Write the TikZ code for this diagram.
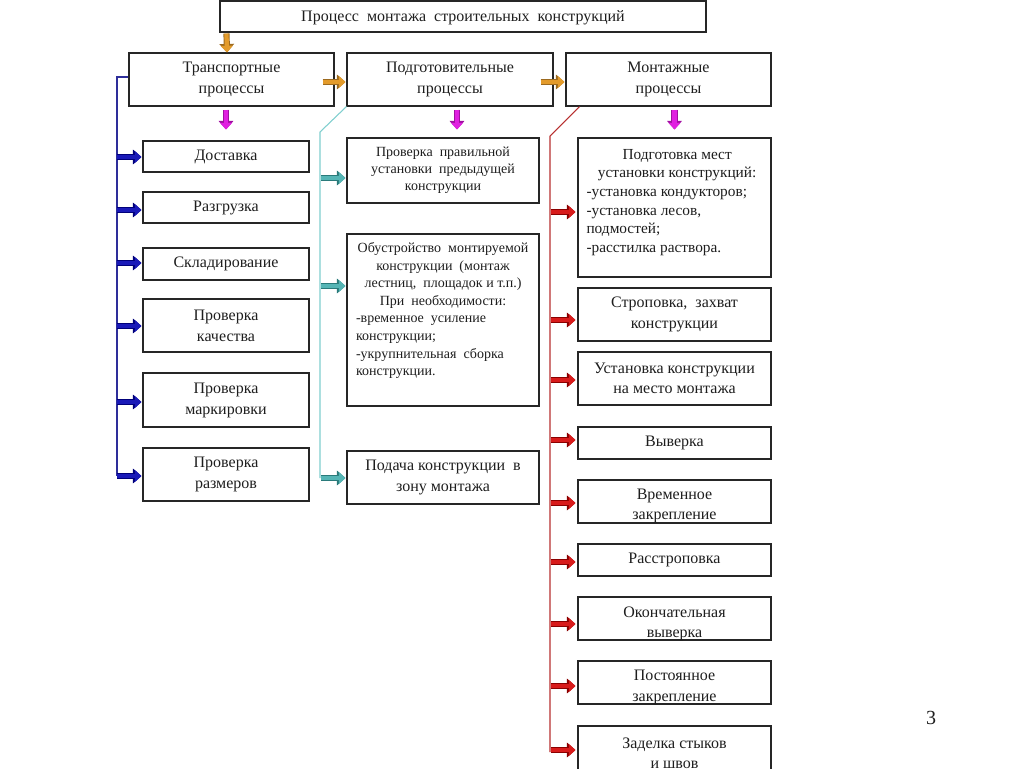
\documentclass[tikz,border=0pt]{standalone}
\usepackage{fontspec}
\setmainfont{Liberation Serif}
\usetikzlibrary{arrows.meta,calc}
\definecolor{orF}{HTML}{E39B2B}
\definecolor{orD}{HTML}{9C6A1F}
\definecolor{mgF}{HTML}{E020E0}
\definecolor{mgD}{HTML}{A010A0}
\definecolor{blF}{HTML}{1A1AB8}
\definecolor{blD}{HTML}{00007A}
\definecolor{tlF}{HTML}{55B5B5}
\definecolor{tlD}{HTML}{2A7A7A}
\definecolor{rdF}{HTML}{D81B1B}
\definecolor{rdD}{HTML}{8B0000}
\definecolor{blL}{HTML}{2E2E9A}
\definecolor{tlL}{HTML}{80CFCF}
\definecolor{rdL}{HTML}{B83030}
\definecolor{txt}{HTML}{1E1E1E}
\tikzset{
  box/.style={draw=black!85, line width=0.8pt, fill=white, inner sep=0pt, rectangle},
  txtn/.style={inner sep=0pt, align=center, text=txt},
  fA/.style={font=\fontsize{12}{15.75}\selectfont},
  fB/.style={font=\fontsize{10.5}{12.75}\selectfont},
  fC/.style={font=\fontsize{10.5}{13.2}\selectfont},
  fR/.style={font=\fontsize{12}{15.2}\selectfont},
  fat/.style 2 args={draw=#1, line width=3.2pt, -{Triangle[length=5pt,width=8.8pt,fill=#1]},
    preaction={draw=#2, line width=4.6pt, -{Triangle[length=6.4pt,width=10.8pt]}}},
  fatO/.style={fat={orF}{orD}},
  fatM/.style={fat={mgF}{mgD}},
  fatB/.style={fat={blF}{blD}},
  fatT/.style={fat={tlF}{tlD}},
  fatR/.style={fat={rdF}{rdD}},
  trunk/.style={line width=0.8pt},
}
% [text yshift]{name}{x1}{y1}{x2}{y2}{font style}{text}
\newcommand\bx[8][0pt]{%
  \node[box, minimum width={(#5-#3)*0.75pt}, minimum height={(#6-#4)*0.75pt}] (#2) at ({(#3+#5)/2},{(#4+#6)/2}) {};
  \node[txtn, #7, yshift=#1] (#2-t) at (#2.center) {#8};}
\begin{document}
\begin{tikzpicture}[x=0.75pt,y=-0.75pt]
\clip (0,0) rectangle (1024,768);
\fill[white] (0,0) rectangle (1024,768);

% boxes
\bx[-0.6pt]{title}{220}{1}{706}{32}{fA}{Процесс\ \ монтажа\ \ строительных\ \ конструкций}
\bx{T}{129}{53}{334}{106}{fA}{Транспортные\\процессы}
\bx{P}{347}{53}{553}{106}{fA}{Подготовительные\\процессы}
\bx{M}{566}{53}{771}{106}{fA}{Монтажные\\процессы}

\bx{L1}{143}{141}{309}{172}{fA}{Доставка}
\bx{L2}{143}{192}{309}{223}{fA}{Разгрузка}
\bx{L3}{143}{248}{309}{280}{fA}{Складирование}
\bx{L4}{143}{299}{309}{352}{fA}{Проверка\\качества}
\bx{L5}{143}{373}{309}{427}{fA}{Проверка\\маркировки}
\bx{L6}{143}{448}{309}{501}{fA}{Проверка\\размеров}

\bx{C1}{347}{138}{539}{203}{fB}{Проверка\ \ правильной\\установки\ \ предыдущей\\конструкции}
\bx{C2}{347}{234}{539}{406}{fC}{}
\node[txtn, fC, anchor=north, yshift=-6.6pt] (C2-t) at (C2.north) {\parbox{130.5pt}{\centering
  Обустройство\ \ монтируемой\\ конструкции\ \ (монтаж\\ лестниц,\ \ площадок и т.п.)\\ При\ \ необходимости:\par
  \raggedright -временное\ \ усиление\\ конструкции;\\ -укрупнительная\ \ сборка\\ конструкции.\par}};
\bx{C3}{347}{451}{539}{504}{fA}{Подача конструкции\ \ в\\зону монтажа}

\bx{R1}{578}{138}{771}{277}{fR}{}
\node[txtn, font=\fontsize{11.5}{14}\selectfont, anchor=north, xshift=2pt, yshift=-8.5pt] (R1-t) at (R1.north) {\parbox{136pt}{\centering
  Подготовка мест\\ установки конструкций:\par
  \raggedright -установка кондукторов;\\ -установка лесов,\\ подмостей;\\ -расстилка раствора.\par}};
\bx{R2}{578}{288}{771}{341}{fR}{Строповка,\ \ захват\\конструкции}
\bx{R3}{578}{352}{771}{405}{fR}{Установка конструкции\\на место монтажа}
\bx{R4}{578}{427}{771}{459}{fR}{Выверка}
\bx[-3.5pt]{R5}{578}{480}{771}{523}{fR}{Временное\\закрепление}
\bx{R6}{578}{544}{771}{576}{fR}{Расстроповка}
\bx[-3.8pt]{R7}{578}{597}{771}{640}{fR}{Окончательная\\выверка}
\bx[-3.8pt]{R8}{578}{661}{771}{704}{fR}{Постоянное\\закрепление}
\bx{R9}{578}{726}{771}{780}{fR}{Заделка стыков\\и швов}

% trunk lines
\coordinate (bT) at (117,77);
\coordinate (bB) at (117,476);
\draw[trunk, blL] ($(T.west)+(0,-2.5)$) -- (bT) -- (bB);
\coordinate (cT) at (320,132);
\coordinate (cB) at (320,478);
\draw[trunk, tlL] (P.south west) -- (cT) -- (cB);
\coordinate (rT) at (550,136);
\coordinate (rB) at (550,752);
\draw[trunk, rdL] ($(M.south west)+(14,0)$) -- (rT) -- (rB);

% orange arrows
\draw[fatO] ($(title.south west)+(7,1)$) -- ($(T.north)+(-4.5,0)$);
\draw[fatO] ($(T.east)+(-12,2.5)$) -- ($(P.west)+(-1,2.5)$);
\draw[fatO] ($(P.east)+(-13,2.5)$) -- ($(M.west)+(-1,2.5)$);

% magenta arrows
\draw[fatM] ($(T.south)+(-5.5,3)$) -- ($(L1.north)+(0,-11)$);
\draw[fatM] ($(P.south)+(7,3)$) -- ($(C1.north)+(14,-8)$);
\draw[fatM] ($(M.south)+(6,3)$) -- ($(R1.north)+(0,-8)$);

% blue arrows
\foreach \n/\d in {L1/0.5, L2/2.5, L3/-1, L4/0.5, L5/2, L6/1.5}
  \draw[fatB] ($(\n.west)+(-25,\d)$) -- ($(\n.west)+(-1,\d)$);

% teal arrows
\foreach \n/\d in {C1/7.5, C2/-34, C3/0.5}
  \draw[fatT] ($(\n.west)+(-25,\d)$) -- ($(\n.west)+(-1,\d)$);

% red arrows
\foreach \n/\d in {R1/4.5, R2/5.5, R3/1.5, R4/-3, R5/1.5, R6/2, R7/5.5, R8/3.5, R9/-3}
  \draw[fatR] ($(\n.west)+(-26,\d)$) -- ($(\n.west)+(-2,\d)$);

% page number
\node[txtn, font=\fontsize{15}{18}\selectfont] (pg) at (931,718) {3};
\end{tikzpicture}
\end{document}
